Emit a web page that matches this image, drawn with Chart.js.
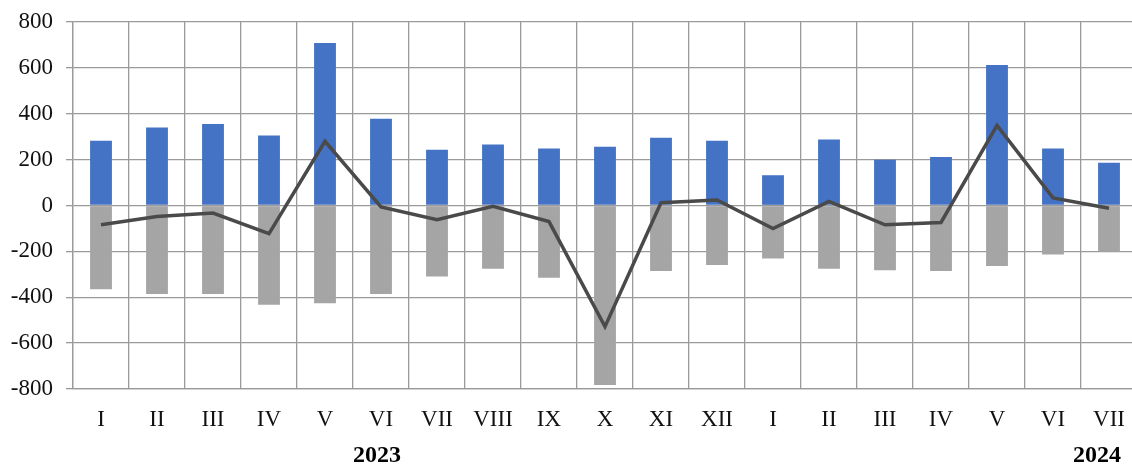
<!DOCTYPE html>
<html>
<head>
<meta charset="utf-8">
<script src="https://cdn.jsdelivr.net/npm/chart.js@4/dist/chart.umd.min.js"></script>
<style>
  html, body { margin: 0; padding: 0; background: #fff; overflow: hidden; }
  #wrap { width: 1137px; height: 466px; position: relative; }
</style>
</head>
<body>
<div id="wrap"><canvas id="c"></canvas></div>
<script>
const categories = ['I','II','III','IV','V','VI','VII','VIII','IX','X','XI','XII','I','II','III','IV','V','VI','VII'];
const inflows = [282, 340, 355, 305, 708, 378, 243, 266, 249, 256, 295, 282, 132, 288, 199, 211, 612, 249, 186];
const outflows = [-365, -386, -386, -433, -426, -386, -310, -276, -315, -783, -286, -259, -231, -276, -282, -286, -264, -214, -201];
const netValues = [-84, -48, -33, -123, 280, -6, -62, -4, -70, -528, 12, 24, -101, 18, -84, -74, 349, 33, -12];
const yearLabels = [{ text: '2023', index: 5 }, { text: '2024', index: 18 }];
const yTicks = { min: -800, max: 800, step: 200 };

const FONT = "'Liberation Serif', 'Times New Roman', serif";

const yearPlugin = {
  id: 'years',
  afterDraw(chart) {
    const ctx = chart.ctx;
    const xs = chart.scales.x;
    ctx.save();
    ctx.font = "bold 24px " + FONT;
    ctx.fillStyle = '#000';
    ctx.textBaseline = 'middle';
    ctx.textAlign = 'center';
    yearLabels.forEach((y, i) => {
      const px = xs.getPixelForValue(y.index);
      const shift = (i === yearLabels.length - 1) ? -12 : -4;
      ctx.fillText(y.text, px + shift, 456);
    });
    ctx.restore();
  }
};

new Chart(document.getElementById('c'), {
  type: 'bar',
  data: {
    labels: categories,
    datasets: [
      {
        type: 'line',
        data: netValues,
        borderColor: '#4a4a4a',
        borderWidth: 3.5,
        pointRadius: 0,
        tension: 0,
        fill: false,
        order: 0
      },
      {
        data: inflows,
        backgroundColor: '#4472C4',
        grouped: false,
        barPercentage: 0.39,
        categoryPercentage: 1,
        order: 1
      },
      {
        data: outflows,
        backgroundColor: '#A5A5A5',
        grouped: false,
        barPercentage: 0.39,
        categoryPercentage: 1,
        order: 2
      }
    ]
  },
  options: {
    responsive: true,
    maintainAspectRatio: false,
    animation: false,
    layout: { autoPadding: false, padding: { top: 22, right: 0, left: 0, bottom: 0 } },
    plugins: { legend: { display: false }, tooltip: { enabled: false } },
    scales: {
      x: {
        offset: true,
        grid: { color: '#9a9a9a', lineWidth: 1.3, offset: true, drawTicks: false },
        border: { color: '#9a9a9a', width: 1.3 },
        ticks: { font: { family: FONT, size: 23 }, color: '#111', padding: 17, maxRotation: 0, autoSkip: false },
        afterFit(s) { s.height = 77; s.paddingLeft = 0; s.paddingRight = 0; }
      },
      y: {
        min: yTicks.min,
        max: yTicks.max,
        grid: { color: '#9a9a9a', lineWidth: 1.3, tickLength: 7 },
        border: { color: '#9a9a9a', width: 1.3 },
        ticks: { stepSize: yTicks.step, font: { family: FONT, size: 23 }, color: '#111', padding: 13 },
        afterFit(s) { s.width = 73; s.paddingTop = 0; s.paddingBottom = 0; }
      }
    }
  },
  plugins: [yearPlugin]
});
</script>
</body>
</html>
